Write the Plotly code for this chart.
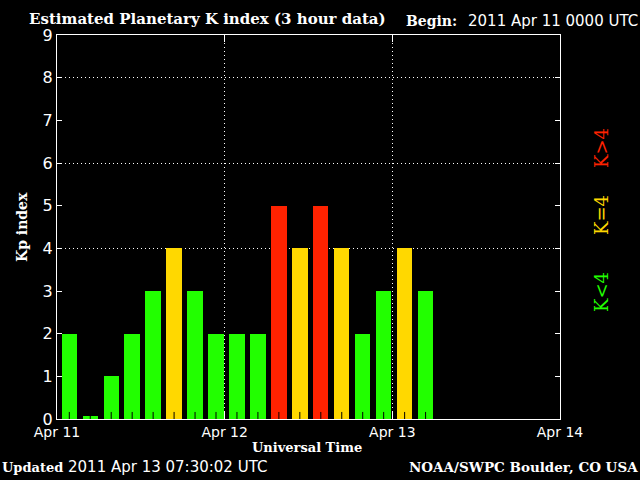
import plotly.graph_objects as go

# 3-hour Kp values starting 2011 Apr 11 00 UT
kp_values = [2, 0, 1, 2, 3, 4, 3, 2,
             2, 2, 5, 4, 5, 4, 2, 3,
             4, 3]
slot_hours = 3
bar_center_offset = 1.76   # hours into each 3h slot
day_ticks = [0, 24, 48, 72]
day_labels = ["Apr 11", "Apr 12", "Apr 13", "Apr 14"]
y_ticks = list(range(0, 10))
grid_levels = [4, 6, 8]

GREEN = "#22ff00"
YELLOW = "#ffd800"
RED = "#ff2200"

def kp_color(v):
    if v < 4:
        return GREEN
    if v == 4:
        return YELLOW
    return RED

x_pos = [i * slot_hours + bar_center_offset for i in range(len(kp_values))]
heights = [max(v, 0.07) for v in kp_values]
colors = [kp_color(v) for v in kp_values]

SERIF = "DejaVu Serif"
SANS = "DejaVu Sans"

fig = go.Figure()
fig.add_trace(go.Bar(
    x=x_pos, y=heights, width=2.2,
    marker=dict(color=colors, line=dict(width=0)),
    hoverinfo="skip",
))
# small black tick marks at the centre of every 3-hour slot
fig.add_trace(go.Scatter(
    x=x_pos, y=[0] * len(x_pos), mode="markers",
    marker=dict(size=1, color="rgba(0,0,0,0)"),
    error_y=dict(type="data", symmetric=False, array=[0.165] * len(x_pos),
                 arrayminus=[0] * len(x_pos), color="black", thickness=1, width=0),
    hoverinfo="skip",
))

fig.update_layout(
    width=640, height=480,
    paper_bgcolor="black", plot_bgcolor="black",
    margin=dict(l=57, r=80, t=35, b=61),
    showlegend=False,
    bargap=0,
    font=dict(family=SANS, color="white", size=14),
)

fig.update_xaxes(
    range=[0, 72], tickmode="array", tickvals=day_ticks, ticktext=day_labels,
    showline=True, linecolor="white", linewidth=1, mirror="ticks",
    ticks="inside", ticklen=7, tickcolor="white", tickwidth=1,
    tickfont=dict(family=SANS, size=14, color="white"),
    showgrid=True, gridcolor="white", gridwidth=1, griddash="1px,3px",
    zeroline=False,
    fixedrange=True,
)
fig.update_yaxes(
    range=[0, 9], tickmode="array", tickvals=y_ticks,
    showline=True, linecolor="white", linewidth=1, mirror="ticks",
    ticks="inside", ticklen=5, tickcolor="white", tickwidth=1,
    tickfont=dict(family=SANS, size=16, color="white"),
    showgrid=False, zeroline=False,
    minor=dict(tickmode="array", tickvals=grid_levels, ticks="",
               showgrid=True, gridcolor="white", gridwidth=1, griddash="1px,3px"),
    fixedrange=True,
)

pw = 640 - 57 - 80
ph = 480 - 35 - 61

def px_to_paper(px, py):
    return (px - 57) / pw, (419 - py) / ph

texts = [
    # text, x, y, xanchor, family, size, color, angle
    ("<b>Estimated Planetary K index (3 hour data)</b>", 27, 19, "left", SERIF, 15, "white", 0),
    ("<b>Begin:</b>", 404, 21, "left", SERIF, 14, "white", 0),
    ("2011 Apr 11 0000 UTC", 640, 21, "right", SANS, 15, "white", 0),
    ("<b>Universal Time</b>", 307, 447, "center", SERIF, 13, "white", 0),
    ("<b>Updated</b>", 0, 467, "left", SERIF, 13, "white", 0),
    ("2011 Apr 13 07:30:02 UTC", 66, 467, "left", SANS, 15, "white", 0),
    ("<b>NOAA/SWPC Boulder, CO USA</b>", 640, 467, "right", SERIF, 13.5, "white", 0),
    ("<b>Kp index</b>", 22, 227, "center", SERIF, 14, "white", -90),
    ("K&lt;4", 601, 292, "center", SERIF, 18, GREEN, -90),
    ("K=4", 601, 215, "center", SERIF, 18, YELLOW, -90),
    ("K&gt;4", 601, 148, "center", SERIF, 18, RED, -90),
]
annotations = []
for text, px, py, xa, fam, sz, col, ang in texts:
    x, y = px_to_paper(px, py)
    annotations.append(dict(text=text, x=x, y=y, xref="paper", yref="paper",
                            showarrow=False, xanchor=xa, yanchor="middle",
                            textangle=ang, font=dict(family=fam, size=sz, color=col)))
fig.update_layout(annotations=annotations)

fig.write_html("out.html", config={"displayModeBar": False},
               post_script="document.body.style.margin='0';document.body.style.background='black';")
